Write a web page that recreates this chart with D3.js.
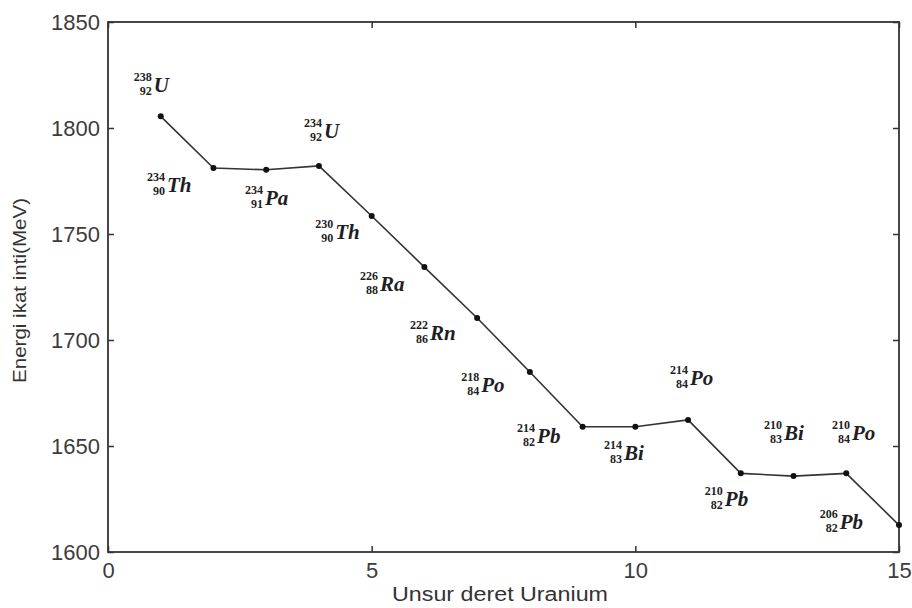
<!DOCTYPE html>
<html>
<head>
<meta charset="utf-8">
<script src="https://cdn.jsdelivr.net/npm/d3@7"></script>
<style>
    body { margin: 0; background: #fff; }
    .axis text { font-family: "Liberation Sans", Arial, sans-serif; font-size: 22px; fill: #3c3c3c; }
    .axis line { stroke: #333; stroke-width: 1.5; }
    .axis path { display: none; }
    .axis-text { font-family: "Liberation Sans", Arial, sans-serif; fill: #333; }
    .iso text { font-family: "Liberation Serif", "DejaVu Serif", serif; fill: #1e1e24; }
</style>
</head>
<body>
<script>
// series: index in the Uranium decay chain vs binding energy (MeV)
const steps = [1, 2, 3, 4, 5, 6, 7, 8, 9, 10, 11, 12, 13, 14, 15]
const energy = [1805.5, 1781.1, 1780.3, 1782.1, 1758.5, 1734.4, 1710.4, 1684.9,
    1659.1, 1659.1, 1662.3, 1637.1, 1635.8, 1637.1, 1612.7]

// isotope labels
const massNumbers = [238, 234, 234, 234, 230, 226, 222, 218, 214, 214, 214, 210, 210, 210, 206]
const atomicNumbers = [92, 90, 91, 92, 90, 88, 86, 84, 82, 83, 84, 82, 83, 84, 82]
const symbols = ["U", "Th", "Pa", "U", "Th", "Ra", "Rn", "Po", "Pb", "Bi", "Po", "Pb", "Bi", "Po", "Pb"]
// label anchors in data units (left edge, baseline)
const labelX = [0.45, 0.70, 2.56, 3.68, 3.89, 4.74, 5.69, 6.66, 7.72, 9.37, 10.62, 11.28, 12.40, 13.69, 13.46]
const labelY = [1817.0, 1769.8, 1763.7, 1795.3, 1747.6, 1723.1, 1700.0, 1675.5, 1651.4, 1643.4,
    1678.8, 1621.7, 1652.8, 1652.8, 1610.8]

const xTicks = [0, 5, 10, 15]
const yTicks = [1600, 1650, 1700, 1750, 1800, 1850]

const WIDTH = 912
const HEIGHT = 608

const PADDING = {
    left: 108,
    right: 13,
    top: 22,
    bottom: 56
}

const svg = d3.select("body")
    .append("svg")
    .attr("width", WIDTH)
    .attr("height", HEIGHT)

const xScale = d3.scaleLinear()
    .domain([0, 15])
    .range([PADDING.left, WIDTH - PADDING.right])

const yScale = d3.scaleLinear()
    .domain([1600, 1850])
    .range([HEIGHT - PADDING.bottom, PADDING.top])

// axes, ticks pointing inward on all four sides
svg.append("g")
    .attr("class", "axis")
    .attr("transform", "translate(0, " + (HEIGHT - PADDING.bottom) + ")")
    .call(d3.axisBottom(xScale).tickValues(xTicks).tickFormat(d3.format("d"))
        .tickSizeInner(-6).tickSizeOuter(0).tickPadding(10))

svg.append("g")
    .attr("class", "axis")
    .attr("transform", "translate(" + PADDING.left + ", 0)")
    .call(d3.axisLeft(yScale).tickValues(yTicks).tickFormat(d3.format("d"))
        .tickSizeInner(-6).tickSizeOuter(0).tickPadding(8))

svg.append("g")
    .attr("class", "axis")
    .attr("transform", "translate(0, " + PADDING.top + ")")
    .call(d3.axisTop(xScale).tickValues(xTicks).tickSizeInner(-6).tickSizeOuter(0).tickFormat(""))

svg.append("g")
    .attr("class", "axis")
    .attr("transform", "translate(" + (WIDTH - PADDING.right) + ", 0)")
    .call(d3.axisRight(yScale).tickValues(yTicks).tickSizeInner(-6).tickSizeOuter(0).tickFormat(""))

// frame
svg.append("rect")
    .attr("x", xScale(0))
    .attr("y", yScale(1850))
    .attr("width", xScale(15) - xScale(0))
    .attr("height", yScale(1600) - yScale(1850))
    .attr("fill", "none")
    .attr("stroke", "#333")
    .attr("stroke-width", 1.8)

// line + markers
const line = d3.line()
    .x((d, i) => xScale(steps[i]))
    .y(d => yScale(d))

svg.append("path")
    .datum(energy)
    .attr("d", line)
    .attr("fill", "none")
    .attr("stroke", "#333")
    .attr("stroke-width", 1.6)

svg.selectAll("circle")
    .data(energy)
    .enter()
    .append("circle")
    .attr("cx", (d, i) => xScale(steps[i]))
    .attr("cy", d => yScale(d))
    .attr("r", 3)
    .attr("fill", "#111")

// isotope notation labels
const iso = svg.selectAll("g.iso")
    .data(symbols)
    .enter()
    .append("g")
    .attr("class", "iso")
    .attr("transform", (d, i) => "translate(" + xScale(labelX[i]) + ", " + yScale(labelY[i]) + ")")

const PRE_W = 20

iso.append("text")
    .attr("x", PRE_W)
    .attr("y", -11)
    .attr("text-anchor", "end")
    .attr("font-size", 12)
    .attr("font-weight", "bold")
    .text((d, i) => massNumbers[i])

iso.append("text")
    .attr("x", PRE_W)
    .attr("y", 3)
    .attr("text-anchor", "end")
    .attr("font-size", 12)
    .attr("font-weight", "bold")
    .text((d, i) => atomicNumbers[i])

iso.append("text")
    .attr("x", PRE_W + 2)
    .attr("y", 0)
    .attr("font-size", 21)
    .attr("font-weight", "bold")
    .attr("font-style", "italic")
    .text(d => d)

// axis titles
svg.append("text")
    .attr("class", "axis-text")
    .attr("x", 392)
    .attr("y", 601)
    .attr("font-size", 20)
    .attr("textLength", 216)
    .attr("lengthAdjust", "spacingAndGlyphs")
    .text("Unsur deret Uranium")

svg.append("text")
    .attr("class", "axis-text")
    .attr("transform", "translate(26, 383) rotate(-90)")
    .attr("font-size", 18)
    .attr("textLength", 185)
    .attr("lengthAdjust", "spacingAndGlyphs")
    .text("Energi ikat inti(MeV)")
</script>
</body>
</html>
